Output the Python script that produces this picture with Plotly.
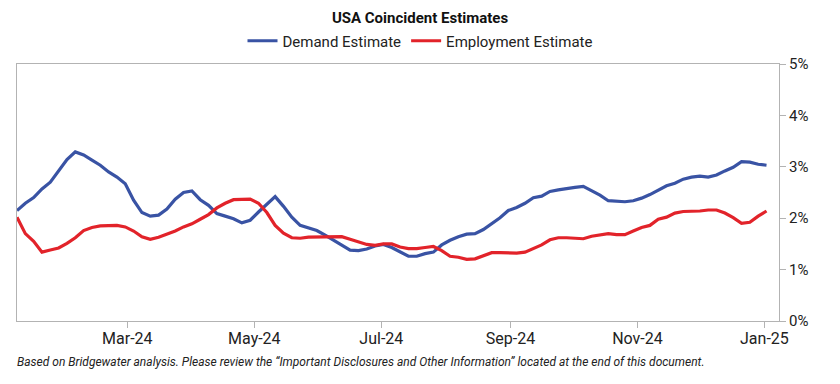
import pandas as pd
import plotly.graph_objects as go

# Data: sampled every 4 days starting 2024-01-08
start_date = "2024-01-08"
step = "4D"

demand = [2.15, 2.29, 2.40, 2.57, 2.70, 2.93, 3.14, 3.29, 3.23, 3.13,
          3.03, 2.90, 2.80, 2.67, 2.35, 2.11, 2.04, 2.06, 2.18, 2.37,
          2.50, 2.53, 2.36, 2.25, 2.09, 2.04, 1.99, 1.91, 1.96, 2.12,
          2.28, 2.42, 2.23, 2.02, 1.86, 1.81, 1.76, 1.67, 1.57, 1.48,
          1.38, 1.37, 1.40, 1.46, 1.49, 1.43, 1.34, 1.26, 1.26, 1.31,
          1.34, 1.48, 1.57, 1.64, 1.69, 1.70, 1.78, 1.90, 2.01, 2.15,
          2.21, 2.29, 2.40, 2.43, 2.52, 2.55, 2.58, 2.60, 2.62, 2.54,
          2.45, 2.34, 2.33, 2.32, 2.34, 2.39, 2.46, 2.55, 2.63, 2.68,
          2.76, 2.80, 2.82, 2.80, 2.84, 2.92, 2.99, 3.10, 3.09, 3.05,
          3.03]

employment = [2.02, 1.70, 1.55, 1.34, 1.38, 1.42, 1.51, 1.62, 1.76, 1.82,
              1.85, 1.85, 1.86, 1.83, 1.75, 1.64, 1.59, 1.63, 1.69, 1.75,
              1.83, 1.89, 1.98, 2.07, 2.20, 2.29, 2.36, 2.37, 2.37, 2.29,
              2.11, 1.86, 1.71, 1.62, 1.61, 1.63, 1.63, 1.64, 1.64, 1.64,
              1.59, 1.54, 1.49, 1.47, 1.50, 1.50, 1.44, 1.41, 1.41, 1.43,
              1.45, 1.37, 1.26, 1.24, 1.20, 1.21, 1.27, 1.33, 1.33, 1.32,
              1.32, 1.34, 1.41, 1.48, 1.58, 1.62, 1.62, 1.61, 1.60, 1.65,
              1.67, 1.70, 1.68, 1.68, 1.75, 1.82, 1.86, 1.98, 2.02, 2.10,
              2.13, 2.13, 2.14, 2.16, 2.16, 2.10, 2.01, 1.90, 1.92, 2.04,
              2.14]

dates = pd.date_range(start=start_date, periods=len(demand), freq=step)

y_tick_vals = [0, 1, 2, 3, 4, 5]
y_tick_text = ["0%", "1%", "2%", "3%", "4%", "5%"]
x_tick_vals = ["2024-03-01", "2024-05-01", "2024-07-01", "2024-09-01",
               "2024-11-01", "2025-01-01"]
x_tick_text = ["Mar-24", "May-24", "Jul-24", "Sep-24", "Nov-24", "Jan-25"]

FONT = "Roboto, sans-serif"
AXIS = "#b3b3b3"

# page body adds an 8px offset; figure coordinates compensate for it
W, H = 840, 384
PLOT_L, PLOT_T, PLOT_R, PLOT_B = 9, 56, 771, 313

fig = go.Figure()
fig.add_trace(go.Scatter(x=dates, y=demand, mode="lines", name="Demand Estimate",
                         line=dict(color="#3953a4", width=3.2)))
fig.add_trace(go.Scatter(x=dates, y=employment, mode="lines", name="Employment Estimate",
                         line=dict(color="#e2232a", width=3.2)))

fig.update_layout(
    width=W, height=H,
    margin=dict(l=PLOT_L, r=W - PLOT_R, t=PLOT_T, b=H - PLOT_B, autoexpand=False),
    paper_bgcolor="white", plot_bgcolor="white",
    font=dict(family=FONT, size=13, color="#222222"),
    title=dict(text="<b>USA Coincident Estimates</b>", x=412 / W, xref="container",
               xanchor="center", y=1 - 10 / H, yref="container", yanchor="middle",
               font=dict(family=FONT, size=15, color="#111111")),
    legend=dict(orientation="h", x=412 / W, xref="container", xanchor="center",
                y=1 - 33 / H, yref="container", yanchor="middle",
                font=dict(family=FONT, size=15, color="#222222"),
                itemwidth=30, tracegroupgap=0, bgcolor="rgba(0,0,0,0)"),
    showlegend=True,
)

fig.update_xaxes(
    range=["2024-01-08", "2025-01-08"],
    tickvals=x_tick_vals, ticktext=x_tick_text,
    showgrid=False, zeroline=False,
    showline=True, linecolor=AXIS, linewidth=1, mirror=True,
    ticks="outside", ticklen=6, tickcolor=AXIS,
    ticklabelstandoff=-3,
    tickfont=dict(family=FONT, size=16, color="#222222"),
)
fig.update_yaxes(
    range=[0, 5], side="right",
    tickvals=y_tick_vals, ticktext=y_tick_text,
    showgrid=False, zeroline=False,
    showline=True, linecolor=AXIS, linewidth=1, mirror=True,
    ticks="outside", ticklen=6, tickcolor=AXIS,
    tickfont=dict(family=FONT, size=15, color="#222222"),
)

fig.add_annotation(
    text="<i>Based on Bridgewater analysis. Please review the \u201cImportant Disclosures and Other Information\u201d located at the end of this document.</i>",
    xref="paper", yref="paper", x=-0.003, y=(PLOT_B - 354) / (PLOT_B - PLOT_T),
    xanchor="left", yanchor="middle", showarrow=False,
    font=dict(family=FONT, size=12, color="#222222"),
)

fig.write_html("out.html")
